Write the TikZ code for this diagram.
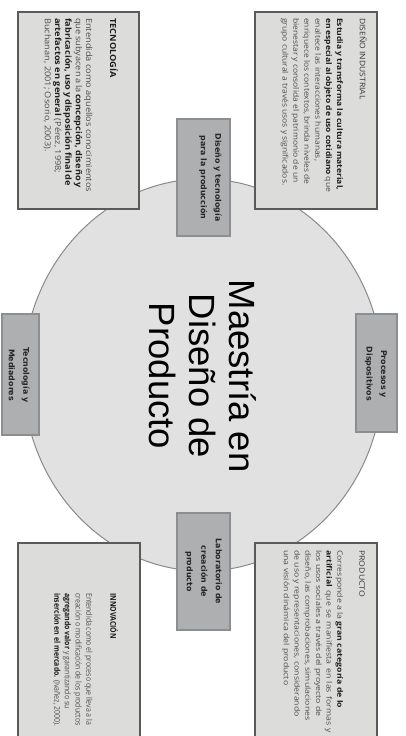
\documentclass[tikz,border=0pt]{standalone}
\usepackage{fontspec}
\setmainfont{Open Sans}
\newfontfamily\titlefont{Liberation Sans}
\newfontfamily\labfont{DejaVu Sans}
\newfontfamily\difont[FakeStretch=1.12]{Open Sans}
\newfontfamily\tecfont[FakeStretch=1.11]{Open Sans}
\newfontfamily\prodfont[FakeStretch=1.18]{Open Sans}
\newfontfamily\innovfont[FakeStretch=0.87]{Open Sans}
\usetikzlibrary{shapes.geometric}
\definecolor{circfill}{HTML}{E1E1E1}
\definecolor{circborder}{HTML}{8A8A8A}
\definecolor{boxfill}{HTML}{DCDDDB}
\definecolor{boxborder}{HTML}{5A5A5A}
\definecolor{smallfill}{HTML}{ADAFB1}
\definecolor{smallborder}{HTML}{8C8E90}
\definecolor{bodygray}{HTML}{4C4C4C}
\definecolor{bolddark}{HTML}{1E1E1E}
\definecolor{ttlgray}{HTML}{333333}
\newcommand\B[1]{{\bfseries\color{bolddark}#1}}
\tikzset{
  ellipsebg/.style={ellipse, draw=circborder, fill=circfill, line width=1pt,
    minimum width=360pt, minimum height=392pt, inner sep=0pt},
  bigbox/.style={draw=boxborder, fill=boxfill, line width=1.1pt, inner sep=0pt},
  smallbox/.style={draw=smallborder, fill=smallfill, line width=1.5pt, inner sep=0pt},
  bodytext/.style={rotate=-90, anchor=north west, inner sep=0pt, align=left, text=bodygray},
  labeltext/.style={rotate=-90, anchor=north, inner sep=0pt, align=center,
    font=\labfont\bfseries\fontsize{7.9}{14.5}\selectfont, text=black!85},
  maintitle/.style={rotate=-90, align=center, inner sep=0pt,
    font=\titlefont\fontsize{36.5}{40}\selectfont, text=black}
}
\begin{document}
\begin{tikzpicture}[x=1pt,y=-1pt]
\useasboundingbox (0,0) rectangle (405,736);
\node[ellipsebg] (circ) at (203,375) {};
% big text boxes
\node[bigbox, minimum width=122pt, minimum height=197pt] (di) at (316,110.5) {};
\node[bigbox, minimum width=121pt, minimum height=197pt] (tec) at (78.5,110.5) {};
\node[bigbox, minimum width=122pt, minimum height=197pt] (prod) at (316,641.5) {};
\node[bigbox, minimum width=122pt, minimum height=197pt] (innov) at (79,641.5) {};
% small label boxes
\node[smallbox, minimum width=53pt, minimum height=117pt] (dtp) at (203.5,177.5) {};
\node[smallbox, minimum width=41pt, minimum height=118pt] (proc) at (376.5,373) {};
\node[smallbox, minimum width=37pt, minimum height=121pt] (tm) at (20.5,374.5) {};
\node[smallbox, minimum width=53pt, minimum height=117pt] (lab) at (203.5,571.5) {};
% title
\node[maintitle] (title) at (203,376) {Maestría en\\Diseño de\\Producto};
% labels
\node[labeltext] (dtpt) at (222,177.5) {Diseño y tecnología\\para la producción};
\node[labeltext] (proct) at (387,374) {Procesos y\\Dispositivos};
\node[labeltext] (tmt) at (30,375) {Tecnología y\\Mediadores};
\node[labeltext] (labt) at (222,571.5) {Laboratorio de\\creación de\\producto};
% body texts
\node[bodytext, font=\difont\fontsize{7.6}{10.9}\selectfont] (dit) at (367,18) {%
{\color{ttlgray}DISEÑO INDUSTRIAL}\\[12pt]
\makebox[172pt][s]{\B{Estudia y transforma la cultura material,}}\\
\makebox[174pt][s]{\B{en especial al objeto de uso cotidiano} que}\\
enaltece las interacciones humanas,\\
enriquece los contextos, brinda niveles de\\
bienestar y consolida el patrimonio de un\\
grupo cultural a través usos y significados.};
\node[bodytext, font=\tecfont\fontsize{8.3}{10.3}\selectfont] (tect) at (118,18) {%
\B{TECNOLOGÍA}\\[13.7pt]
Entendida como aquellos conocimientos\\
\makebox[168pt][s]{que subyacen a la \B{concepción, diseño y}}\\
\makebox[168pt][s]{\B{fabricación, uso y disposición final de}}\\
\B{artefactos en general} (Pérez, 1998;\\
Buchanan, 2001; Osorio, 2003).};
\node[bodytext, font=\prodfont\fontsize{7.4}{10.7}\selectfont] (prodt) at (365,550) {%
{\color{ttlgray}PRODUCTO}\\[11.3pt]
Corresponde a la \B{gran categoría de lo}\\
\makebox[183pt][s]{\B{artificial} que se manifiesta en las formas y}\\
los usos sociales a través del proyecto de\\
diseño, las comprobaciones, simulaciones\\
de uso y representaciones, considerando\\
una visión dinámica del producto};
\node[bodytext, font=\innovfont\fontsize{8}{10.7}\selectfont] (innovt) at (118,593) {%
\B{INNOVACIÓN}\\[13.3pt]
Entendida como el proceso que lleva a la\\
creación o modificación de los productos\\
\B{agregando valor} y garantizando su\\
\B{inserción en el mercado.} (Ivañez, 2000).};
\end{tikzpicture}
\end{document}
